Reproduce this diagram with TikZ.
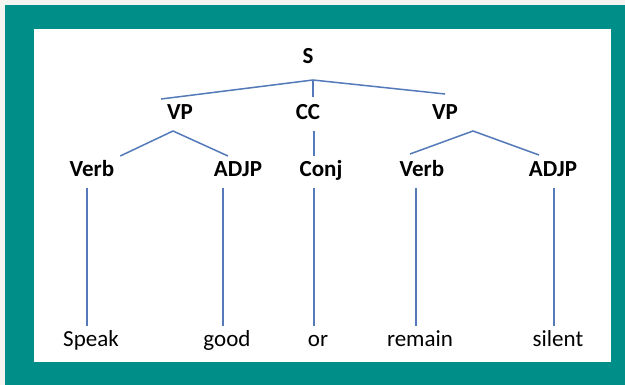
\documentclass[tikz,border=0pt]{standalone}
\usepackage{fontspec}
\setmainfont{Carlito}
\definecolor{frameteal}{RGB}{0,143,136}
\definecolor{paper}{RGB}{244,244,240}
\definecolor{branchblue}{RGB}{84,122,185}

\begin{document}
\begin{tikzpicture}[x=1pt,y=-1pt,
    cat/.style={font=\fontsize{23}{27}\selectfont\bfseries,anchor=base,
      inner sep=0pt,outer sep=6pt,text height=15pt,text depth=5pt},
    word/.style={cat,font=\fontsize{23}{27}\selectfont},
    edge/.style={draw=branchblue,line width=1.5pt}]

      %%%%  Frame
      \fill[paper] (0,0) rectangle (625,385);
      \fill[frameteal] (5,5) rectangle (625,385);
      \fill[white] (34,29) rectangle (611,362);
      \useasboundingbox (0,0) rectangle (625,385);

      %%%%%%%%%%%%%%%%%%%%%%%%%%%%%%%%%%%%%%%%%%%%%%%%%%%%%%%%%%%%%%%%%%%%%%%%%%%
      %%%%  Categories
      \node[cat] (s) at (308,64) {S};

      \node[cat] (vpa) at (180,120) {VP};
      \node[cat] (cc)  at (308,120) {CC};
      \node[cat] (vpb) at (445,120) {VP};

      \node[cat] (verba) at (92,177)  {Verb};
      \node[cat] (adjpa) at (238,177) {ADJP};
      \node[cat] (conj)  at (321,177) {Conj};
      \node[cat] (verbb) at (422,177) {Verb};
      \node[cat] (adjpb) at (553,177) {ADJP};

      %%%%  Words
      \node[word] (speak)  at (91,347)  {Speak};
      \node[word] (good)   at (227,347) {good};
      \node[word] (or)     at (318,347) {or};
      \node[word] (remain) at (420,347) {remain};
      \node[word] (silent) at (558,347) {silent};

      %%%%%%%%%%%%%%%%%%%%%%%%%%%%%%%%%%%%%%%%%%%%%%%%%%%%%%%%%%%%%%%%%%%%%%%%%%%
      %%%%  Branches
      \draw[edge] (vpa.north west) -- ([xshift=5pt,yshift=-5pt]s.south)
        -- ([yshift=5pt]vpb.north);
      \draw[edge] ([xshift=5pt,yshift=-5pt]s.south) -- ([xshift=5pt,yshift=2pt]cc.north);

      \draw[edge] (verba.north east) -- ([xshift=-7pt]vpa.south)
        -- ([xshift=-10pt]adjpa.north);
      \draw[edge] ([xshift=6pt]cc.south) -- ([xshift=6pt]cc.south |- conj.north);
      \draw[edge] ([xshift=-12pt,yshift=2pt]verbb.north) -- ([xshift=28pt]vpb.south)
        -- ([xshift=-14pt,yshift=1pt]adjpb.north);

      % leaves
      \foreach \up/\down in {verba/speak,adjpa/good,conj/or,verbb/remain,adjpb/silent}
        {\draw[edge] ([xshift=-4pt]\down.north) -- ([xshift=-4pt]\down.north |- \up.south);}
    \end{tikzpicture}
\end{document}
